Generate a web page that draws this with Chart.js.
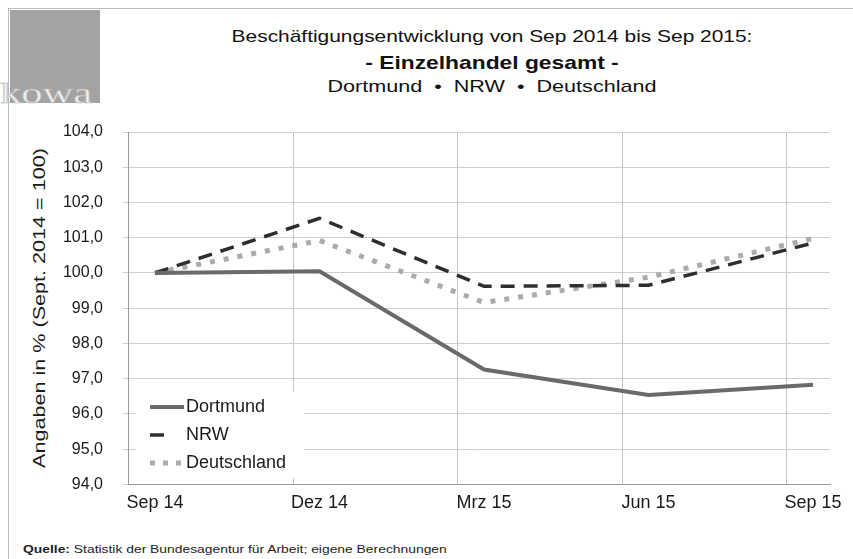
<!DOCTYPE html>
<html>
<head>
<meta charset="utf-8">
<script src="https://cdn.jsdelivr.net/npm/chart.js@4.4.1/dist/chart.umd.min.js"></script>
<style>
  html, body { margin: 0; padding: 0; background: #fff; }
  body { width: 853px; height: 559px; position: relative; overflow: hidden; font-family: "Liberation Sans", Arial, sans-serif; }
  #frame { position: absolute; left: 8px; top: 8px; width: 860px; height: 560px; border-top: 1px solid #bdbdbd; border-left: 1px solid #bdbdbd; }
  #logo { position: absolute; left: 10px; top: 10px; width: 90px; height: 93px; background: #a3a3a3; }
  #logoText { position: absolute; left: 0px; top: 76px; font-family: "Liberation Serif", serif; font-size: 30px; color: #f0f0f0;
    -webkit-text-stroke: 0.6px #b4b4b4; transform: scaleX(1.42); transform-origin: 0 0; }
  .t { position: absolute; left: 92px; width: 800px; text-align: center; color: #111; white-space: nowrap; transform-origin: 400px 0; }
  #t1 { top: 27px; font-size: 17px; transform: scaleX(1.23); }
  #t2 { top: 52px; font-size: 19px; font-weight: bold; transform: scaleX(1.2); }
  #t3 { top: 77px; font-size: 17px; transform: scaleX(1.27); }
  #src { position: absolute; left: 23px; top: 543px; font-size: 11px; color: #222; white-space: nowrap; transform: scaleX(1.26); transform-origin: 0 0; }
  #ytitle { position: absolute; left: 40px; top: 308px; width: 0; height: 0; }
  #ytitle span { position: absolute; left: 0; top: 0; white-space: nowrap; font-size: 17px; color: #1a1a1a;
    transform: translate(-50%, -50%) rotate(-90deg) scaleX(1.27); }
  canvas { position: absolute; left: 0; top: 0; }
</style>
</head>
<body>
<div id="frame"></div>
<div id="logo"></div>
<div id="logoText">kowa</div>
<div class="t" id="t1">Beschäftigungsentwicklung von Sep 2014 bis Sep 2015:</div>
<div class="t" id="t2">- Einzelhandel gesamt -</div>
<div class="t" id="t3">Dortmund &nbsp;•&nbsp; NRW &nbsp;•&nbsp; Deutschland</div>
<div id="src"><b>Quelle:</b> Statistik der Bundesagentur für Arbeit; eigene Berechnungen</div>
<div id="ytitle"><span>Angaben in % (Sept. 2014 = 100)</span></div>
<div style="position:absolute;left:0;top:0;width:853px;height:559px;">
  <canvas id="c" width="853" height="559"></canvas>
</div>
<script>
const months = ['Sep 14', 'Dez 14', 'Mrz 15', 'Jun 15', 'Sep 15'];
const dortmund = [100.0, 100.05, 97.26, 96.54, 96.83];
const nrw = [100.0, 101.55, 99.62, 99.65, 100.85];
const deutschland = [100.0, 100.92, 99.16, 99.88, 100.98];
const yTicks = [94, 95, 96, 97, 98, 99, 100, 101, 102, 103, 104];

const pts = arr => arr.map((v, i) => ({ x: i, y: v }));
const gridAt = [0.84, 1.84, 2.84, 3.84];
const FONT = '"Liberation Sans", Arial, sans-serif';

// legend drawn inside the plot, bottom left
const insideLegend = {
  id: 'insideLegend',
  afterDatasetsDraw(chart){
    const ctx = chart.ctx;
    ctx.save();
    ctx.fillStyle = '#fff';
    ctx.fillRect(136, 392, 168, 86);
    chart.data.datasets.forEach((ds, i) => {
      const y = 407 + i * 28;
      ctx.beginPath();
      ctx.strokeStyle = ds.borderColor;
      ctx.lineWidth = ds.borderWidth;
      ctx.lineCap = ds.borderCapStyle || 'butt';
      ctx.setLineDash(ds.legendDash || []);
      ctx.moveTo(150, y);
      ctx.lineTo(184, y);
      ctx.stroke();
      ctx.setLineDash([]);
      ctx.fillStyle = '#1a1a1a';
      ctx.font = '18px ' + FONT;
      ctx.textBaseline = 'middle';
      ctx.fillText(ds.label, 186, y);
    });
    ctx.restore();
  }
};

new Chart(document.getElementById('c'), {
  type: 'line',
  data: {
    datasets: [
      { label: 'Dortmund', data: pts(dortmund), borderColor: '#6a6a6a', borderWidth: 4, pointRadius: 0, tension: 0, legendDash: [] },
      { label: 'NRW', data: pts(nrw), borderColor: '#2e2e2e', borderWidth: 3.5, borderDash: [14, 9], pointRadius: 0, tension: 0, legendDash: [14, 40] },
      { label: 'Deutschland', data: pts(deutschland), borderColor: '#ababab', borderWidth: 5, borderDash: [5, 9], pointRadius: 0, tension: 0, legendDash: [5, 8] }
    ]
  },
  options: {
    responsive: false,
    animation: false,
    layout: { padding: { left: 0, right: 23, top: 132, bottom: 45 } },
    plugins: { legend: { display: false }, tooltip: { enabled: false } },
    scales: {
      x: {
        type: 'linear',
        min: -0.164,
        max: 4.103,
        afterBuildTicks: s => { s.ticks = months.map((m, i) => ({ value: i })); },
        ticks: {
          callback: v => months[v],
          font: { family: FONT, size: 18 },
          color: '#1a1a1a',
          padding: 0,
          maxRotation: 0,
          autoSkip: false
        },
        grid: { display: false },
        border: { display: true, color: '#9a9a9a', width: 1 }
      },
      xg: {
        type: 'linear',
        position: 'top',
        min: -0.164,
        max: 4.103,
        afterBuildTicks: s => { s.ticks = gridAt.map(v => ({ value: v })); },
        ticks: { display: false },
        grid: { color: '#c4c4c4', lineWidth: 1, drawTicks: false },
        border: { display: false }
      },
      y: {
        min: 94,
        max: 104,
        afterBuildTicks: s => { s.ticks = yTicks.map(v => ({ value: v })); },
        afterFit: s => { s.width = 128; },
        ticks: {
          callback: v => v.toFixed(1).replace('.', ','),
          font: { family: FONT, size: 16 },
          color: '#1a1a1a',
          padding: 20
        },
        grid: { color: '#cfcfcf', lineWidth: 1, tickLength: 5 },
        border: { display: true, color: '#9a9a9a', width: 1 }
      }
    }
  },
  plugins: [insideLegend]
});
</script>
</body>
</html>
